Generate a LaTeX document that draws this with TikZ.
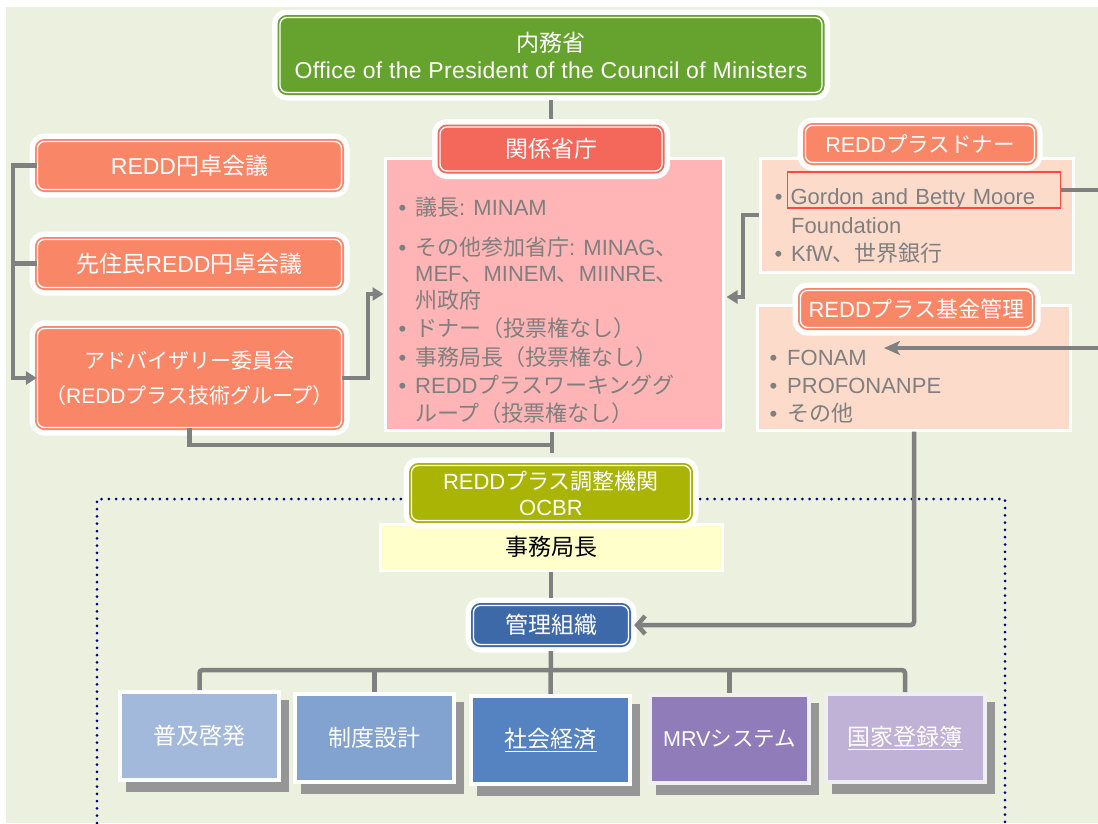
\documentclass[tikz,border=0pt]{standalone}
\usepackage{fontspec}
\setmainfont{Noto Sans CJK JP}
\newfontfamily\latf{Liberation Sans}
\newfontfamily\latfw[LetterSpace=1.5]{Liberation Sans}
\newcommand{\EN}[1]{{\latf #1}}
\newcommand{\bul}[1]{\makebox[0pt][r]{\EN{•}\hspace{#1}}}
\newcommand{\fsL}{\fontsize{23}{27}\selectfont}
\newcommand{\fsP}{\fontsize{22}{26}\selectfont}
\newcommand{\fsM}{\fontsize{21}{35}\selectfont}
\newcommand{\fsK}{\fontsize{21.5}{26}\selectfont}
\newcommand{\fsO}{\fontsize{22}{26}\selectfont}
\newcommand{\fsS}{\fontsize{21.5}{24}\selectfont}
\usetikzlibrary{arrows.meta}
\pgfdeclarelayer{bg}
\pgfdeclarelayer{fg}
\pgfsetlayers{bg,main,fg}
\definecolor{bgc}{HTML}{EBF1DE}
\definecolor{ogreen}{HTML}{66A22E}
\definecolor{redlab}{HTML}{F3685A}
\definecolor{coral}{HTML}{F98767}
\definecolor{pinkp}{HTML}{FFB5B5}
\definecolor{peach}{HTML}{FDDBCB}
\definecolor{olive}{HTML}{A9B404}
\definecolor{lyellow}{HTML}{FFFFCC}
\definecolor{mblue}{HTML}{3E69A9}
\definecolor{conng}{HTML}{808080}
\definecolor{txtg}{HTML}{7F7F7F}
\definecolor{navyd}{HTML}{000080}
\definecolor{shadowg}{HTML}{969696}
\definecolor{bA}{HTML}{A3B9DC}
\definecolor{bB}{HTML}{82A3D0}
\definecolor{bC}{HTML}{5582C0}
\definecolor{bD}{HTML}{8F7CB8}
\definecolor{bE}{HTML}{BFB2D6}
\definecolor{boxedge}{HTML}{EFEFEF}
\definecolor{gred}{HTML}{FF4A3A}
\tikzset{
  lbox/.style={rounded corners=7pt, fill=#1, draw=white, line width=1.3pt,
    preaction={draw=white, line width=16pt},
    preaction={draw=#1, line width=5pt},
    text=white, inner sep=0pt, align=center},
  panel/.style={fill=#1, draw=white, line width=3pt, inner sep=0pt},
  bbox/.style={fill=#1, draw=white, line width=4pt,
    preaction={fill=shadowg, draw=shadowg, line width=4pt, transform canvas={shift={(8pt,-10pt)}}},
    text=white, inner sep=0pt, font=\fsL, minimum width=159pt, minimum height=88pt},
  ptext/.style={anchor=base west, inner sep=0pt, text=txtg, font=\fsP},
  conn/.style={draw=conng, line width=4.5pt},
  tri/.style={-{Triangle[length=11pt,width=13pt]}},
  dotline/.style={draw=navyd, line width=3pt, line cap=round, dash pattern=on 0pt off 7.3pt}
}
\begin{document}
\begin{tikzpicture}[x=1pt,y=-1pt]
\useasboundingbox (0,0) rectangle (1098,823);
\begin{pgfonlayer}{bg}
  \fill[white] (0,0) rectangle (1098,823);
  \fill[bgc] (6,7) rectangle (1098,823);
  \draw[dotline] (97,823) -- (97,499) -- (1005,499) -- (1005,823);
\end{pgfonlayer}

% top
\node[lbox=ogreen, minimum width=542pt, minimum height=75pt, font=\fsL] (office) at (551,55)
  {内務省\\{\latfw Office of the President of the Council of Ministers}};

% left boxes
\node[lbox=coral, minimum width=304pt, minimum height=48pt, font=\fsL] (r1) at (189.5,165.5) {\EN{REDD}円卓会議};
\node[lbox=coral, minimum width=304pt, minimum height=48pt, font=\fsL] (r2) at (189.5,263.5) {先住民\EN{REDD}円卓会議};
\node[lbox=coral, minimum width=304pt, minimum height=99pt, font=\fsM] (adv) at (189.5,378)
  {アドバイザリー委員会\\（\EN{REDD}プラス技術グループ）};

% central panel
\node[panel=pinkp, minimum width=338pt, minimum height=272pt] (pink) at (554,294) {};
\node[lbox=redlab, minimum width=222pt, minimum height=44pt, font=\fsL] (rel) at (551,149) {関係省庁};
\node[ptext] (p1) at (415,215) {\bul{9pt}議長\EN{: MINAM}};
\node[ptext] (p2) at (415,255) {\bul{9pt}その他参加省庁\EN{: MINAG}、};
\node[ptext] (p3) at (415,281) {\EN{MEF}、\EN{MINEM}、\EN{MIINRE}、};
\node[ptext] (p4) at (415,308) {州政府};
\node[ptext] (p5) at (415,336) {\bul{9pt}ドナー（投票権なし）};
\node[ptext] (p6) at (415,365) {\bul{9pt}事務局長（投票権なし）};
\node[ptext] (p7) at (415,393) {\bul{9pt}\EN{REDD}プラスワーキンググ};
\node[ptext] (p8) at (415,421) {ループ（投票権なし）};

% donor panel
\node[panel=peach, minimum width=313pt, minimum height=114pt] (donor) at (916.5,215) {};
\node[lbox=coral, minimum width=229pt, minimum height=37pt, font=\fsK] (donlab) at (920,144) {\EN{REDD}プラスドナー};
\node[anchor=base west, draw=gred, line width=1.2pt, inner xsep=3pt, inner ysep=4pt,
  text height=28pt, text depth=0pt, text width=267pt, align=left, text=txtg, font=\fsP] (gbox) at (787,204)
  {\bul{8pt}\EN{Gordon and Betty Moore}};
\node[ptext] (d2) at (791,233) {\EN{Foundation}};
\node[ptext] (d3) at (791,261) {\bul{9pt}\EN{KfW}、世界銀行};

% fund panel
\node[panel=peach, minimum width=313pt, minimum height=125pt] (fund) at (913.5,367.5) {};
\node[lbox=coral, minimum width=232pt, minimum height=37pt, font=\fsO] (fundlab) at (916.5,309) {\EN{REDD}プラス基金管理};
\node[ptext] (f1) at (787,365) {\bul{10pt}\EN{FONAM}};
\node[ptext] (f2) at (787,393) {\bul{10pt}\EN{PROFONANPE}};
\node[ptext] (f3) at (787,421) {\bul{10pt}その他};

% OCBR
\node[panel=lyellow, minimum width=342pt, minimum height=46pt, font=\fsL, text=black] (sec) at (551,547) {事務局長};
\node[lbox=olive, minimum width=279pt, minimum height=55pt, font=\fsO] (ocbr) at (551,493)
  {\EN{REDD}プラス調整機関\\\EN{OCBR}};
\node[lbox=mblue, minimum width=155pt, minimum height=39pt, font=\fsL] (mgmt) at (551,625) {管理組織};

% bottom boxes
\node[bbox=bA] (b1) at (199.5,736) {普及啓発};
\node[bbox=bB] (b2) at (374.5,738) {制度設計};
\node[bbox=bC] (b3) at (550.5,740) {\underline{社会経済}};
\node[bbox=bD, draw=boxedge, font=\fsS] (b4) at (729.5,739) {\EN{MRV}システム};
\node[bbox=bE, draw=boxedge] (b5) at (905,738) {\underline{国家登録簿}};

\coordinate (c0) at (13,0);
\coordinate (c1) at (368,294);
\coordinate (c4) at (743,297);
\coordinate (c3) at (914,627);
\coordinate (j1) at (552,445);
\coordinate (j2) at (552,453);
\coordinate (e1) at (1098,196);
\coordinate (e2) at (1098,348);
\coordinate (ft) at (884,348);
\coordinate (bus) at (551,670);

\begin{pgfonlayer}{fg}
  \draw[conn, shorten <=7pt, shorten >=7pt] (office.south) -- (rel.north);
  \draw[conn, tri] (r1.west) -| (c0 |- adv.west) -- (adv.west);
  \draw[conn] (r2.west) -- (r2.west -| c0);
  \draw[conn, tri] (adv.east) -| (c1) -- (c1 -| pink.west);
  \draw[conn] (adv.south) |- (j1);
  \draw[conn] (pink.south -| j1) -- (j2);
  \draw[conn, tri, shorten >=2pt] (donor.west) -| (c4) -- (c4 -| pink.east);
  \draw[conn] (gbox.east) -- (gbox.east -| e1);
  \draw[conn, -{Stealth[length=16pt,width=14pt,inset=4pt]}] (e2) -- (ft);
  \draw[conn, rounded corners=3pt, -{Straight Barb[length=8pt,width=18pt]}, shorten >=5pt] (fund.south -| c3) |- (mgmt.east);
  \draw[conn, shorten >=7pt] (sec.south) -- (mgmt.north);
  \draw[conn, shorten <=6pt] (mgmt.south) -- (b3.north);
  \draw[conn, rounded corners=3pt] (b1.north) |- (bus) -| (b5.north);
  \draw[conn] (b2.north) -- (b2.north |- bus);
  \draw[conn] (b4.north) -- (b4.north |- bus);
\end{pgfonlayer}
\end{tikzpicture}
\end{document}
